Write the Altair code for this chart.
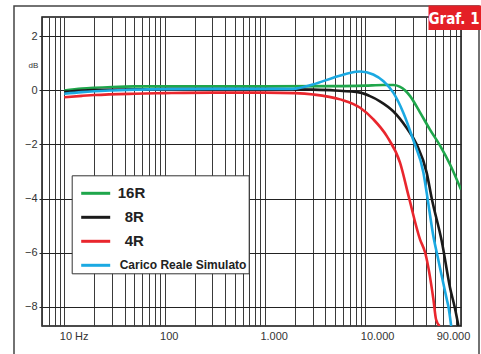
import altair as alt
import pandas as pd

# ---- data ----
series = ["16R", "8R", "4R", "Carico Reale Simulato"]
colors = ["#1fa64b", "#1a1a1a", "#e9262d", "#1ba9e2"]

f_16 = [10, 15, 20, 30, 50, 100, 1000, 5000, 10000, 15000, 19000, 22000, 25000, 28000, 35000, 44000, 56000, 70000, 90000]
db_16 = [0.0, 0.07, 0.1, 0.13, 0.15, 0.15, 0.15, 0.16, 0.18, 0.2, 0.2, 0.14, 0.0, -0.21, -0.8, -1.44, -2.06, -2.74, -3.67]

f_8 = [10, 15, 20, 50, 100, 1000, 3000, 5000, 8900, 11000, 14000, 19000, 26000, 32600, 41000, 46000, 58000, 70000, 78700, 84900]
db_8 = [-0.05, 0.0, 0.02, 0.04, 0.05, 0.05, 0.03, 0.0, -0.08, -0.2, -0.4, -0.77, -1.4, -2.0, -3.05, -4.0, -5.6, -7.3, -8.1, -8.72]

f_4 = [10, 15, 20, 50, 100, 300, 1000, 2000, 3040, 5610, 8890, 12060, 16400, 22250, 27200, 35200, 39500, 47800, 50800, 55000]
db_4 = [-0.25, -0.2, -0.17, -0.12, -0.1, -0.08, -0.08, -0.1, -0.15, -0.33, -0.64, -1.07, -1.69, -2.68, -3.95, -5.52, -6.0, -7.74, -8.48, -8.72]

f_sim = [10, 15, 20, 30, 50, 100, 300, 1000, 1900, 3000, 4800, 7000, 8900, 12000, 15200, 19100, 24000, 30200, 38000, 41000, 48300, 51600, 65000, 67400, 71800]
db_sim = [-0.12, -0.06, -0.03, 0.0, 0.03, 0.05, 0.06, 0.06, 0.06, 0.22, 0.47, 0.65, 0.7, 0.59, 0.34, -0.09, -0.83, -1.85, -3.05, -3.8, -5.5, -6.0, -7.74, -8.0, -8.72]

x_grid = [6, 7, 8, 9, 10, 20, 30, 40, 50, 60, 70, 80, 90, 100, 200, 300, 400, 500, 600, 700, 800, 900,
          1000, 2000, 3000, 4000, 5000, 6000, 7000, 8000, 9000, 10000, 20000, 30000, 40000, 50000,
          60000, 70000, 80000, 90000]
y_ticks = [-8, -6, -4, -2, 0, 2]

rows = []
for name, fs, ds in [("16R", f_16, db_16), ("8R", f_8, db_8), ("4R", f_4, db_4),
                     ("Carico Reale Simulato", f_sim, db_sim)]:
    for f, d in zip(fs, ds):
        rows.append({"serie": name, "f": f, "db": d})
df = pd.DataFrame(rows)

label_expr = ("datum.value == 10 ? '10 Hz' : datum.value == 100 ? '100' : datum.value == 1000 ? '1.000' : "
              "datum.value == 10000 ? '10.000' : datum.value == 90000 ? '90.000' : ''")

FONT = "Liberation Sans"

lines = alt.Chart(df).mark_line(strokeWidth=2.6, clip=True, interpolate="monotone").encode(
    x=alt.X("f:Q",
            scale=alt.Scale(type="log", domain=[6, 90000], nice=False),
            axis=alt.Axis(values=x_grid, labelExpr=label_expr, title=None, grid=True,
                          gridColor="#3a3a3a", gridWidth=1, gridOpacity=1,
                          tickSize=0, domain=False, labelOverlap=False, labelFlush=False,
                          labelBound=False, labelFont=FONT, labelFontSize=11, labelColor="#333",
                          labelPadding=4,
                          labelAlign={"condition": {"test": "datum.value == 90000", "value": "center"}, "value": "left"},
                          labelOffset={"condition": {"test": "datum.value == 90000", "value": -8}, "value": -5})),
    y=alt.Y("db:Q",
            scale=alt.Scale(domain=[-8.72, 2.72], nice=False, zero=False),
            axis=alt.Axis(values=y_ticks, title="dB", titleAngle=0, titleX=-9, titleY=48,
                          titleAlign="center", titleBaseline="middle", titleFontSize=8,
                          titleFontWeight="normal", titleFont=FONT, titleColor="#333",
                          grid=True, gridColor="#222", gridWidth=1, gridOpacity=1,
                          tickSize=3, tickColor="#222", domain=False,
                          labelFont=FONT, labelFontSize=11, labelColor="#333", labelPadding=2)),
    color=alt.Color("serie:N",
                    scale=alt.Scale(domain=series, range=colors),
                    legend=alt.Legend(title=None, orient="none", legendX=29.7, legendY=158.3,
                                      fillColor="white", strokeColor="#333", padding=2,
                                      symbolType="stroke", symbolStrokeWidth=3, symbolSize=841,
                                      symbolOffset=6,
                                      labelFont=FONT, labelFontWeight="bold",
                                      labelFontSize={"expr": "datum.label == 'Carico Reale Simulato' ? 12 : 15"},
                                      labelOffset={"expr": "datum.label == '8R' || datum.label == '4R' ? 13 : (datum.label == '16R' ? 6 : 8)"},
                                      labelColor="#222", rowPadding=-1,
                                      labelLimit=200)),
)

deco = pd.DataFrame({"t": ["Graf. 1"]})
frame = alt.Chart(deco).mark_rect(fillOpacity=0, stroke="#444", strokeWidth=1.5).encode(
    x=alt.value(-28), x2=alt.value(437), y=alt.value(-11), y2=alt.value(345))
badge = alt.Chart(deco).mark_rect(color="#e41f26").encode(
    x=alt.value(386.5), x2=alt.value(440), y=alt.value(-11.5), y2=alt.value(13))
badge_text = alt.Chart(deco).mark_text(color="white", fontSize=15, fontWeight="bold",
                                       font="Liberation Sans Narrow, DejaVu Sans Condensed, Liberation Sans",
                                       align="center", baseline="middle").encode(
    text="t:N", x=alt.value(412), y=alt.value(1.5))

chart = alt.layer(frame, lines, badge, badge_text).properties(
    width=419, height=309,
    autosize=alt.AutoSizeParams(type="none"),
    padding={"left": 42, "top": 17, "right": 20, "bottom": 28},
    background="white",
).configure_view(stroke="#111", strokeWidth=1.5)

chart.save("out.html", embed_options={"renderer": "svg", "actions": False})
